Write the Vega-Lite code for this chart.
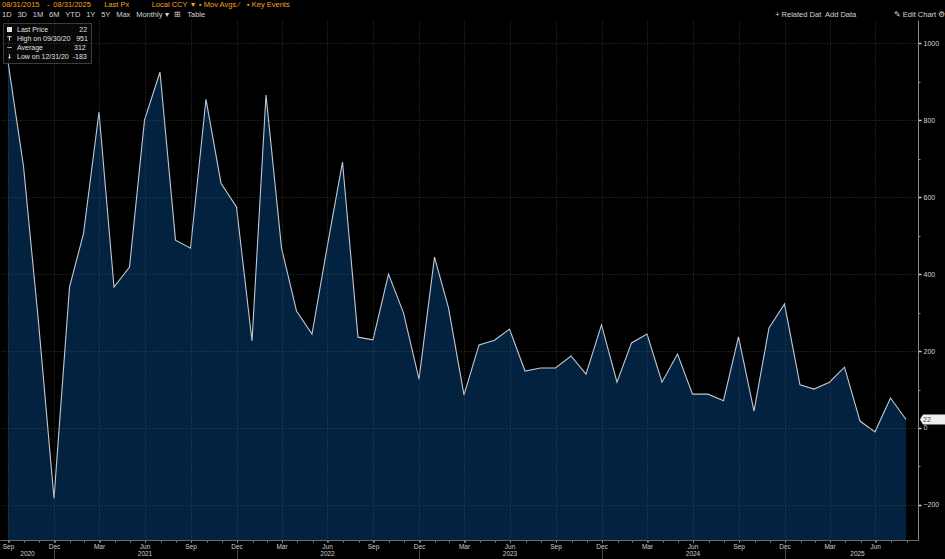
{
  "$schema": "https://vega.github.io/schema/vega-lite/v6.json",
  "width": 918,
  "height": 520,
  "autosize": {"type": "none"},
  "padding": {"left": 0, "top": 20, "right": 27, "bottom": 19},
  "background": "#000000",
  "title": {
    "text": "08/31/2015\u2002\u2002-\u200208/31/2025\u2002\u2002\u2002\u00a0Last Px\u2002\u2002\u2002\u2002\u2002\u2002Local CCY\u2002\u25be\u2002\u25aa Mov Avgs \u2044\u2002\u2002\u25aa Key Events",
    "subtitle": "1D\u2002\u00a03D\u2002\u00a01M\u2002\u00a06M\u2002\u00a0YTD\u2002\u00a01Y\u2002\u00a05Y\u2002\u00a0Max\u2002\u00a0Monthly \u25be\u2002\u00a0\u229e\u2002\u00a0Table\u2003\u2003\u2003\u2003\u2003\u2003\u2003\u2003\u2003\u2003\u2003\u2003\u2003\u2003\u2003\u2003\u2003\u2003\u2003\u2003\u2003\u2003\u2003\u2003\u2003\u2003\u2003\u2003\u2003\u2003\u2003\u2003\u2003\u2003\u2003\u2003\u2003\u2003\u2003\u2003\u2003\u2003\u2003\u2003\u2003\u2003\u2003\u2003\u2003\u2003\u2003\u2003\u2003\u2003\u2003\u2003\u2003\u2003\u2003\u2003\u2003\u2003\u2003\u2003\u2003\u2003\u2003\u2003\u2003\u2003\u2003\u2003\u2003\u2003\u2003\u2003+ Related Dat\u2002Add Data\u2003\u2003\u2003\u2003\u2003\u270e Edit Chart \u2699",
    "anchor": "start",
    "frame": "group",
    "orient": "top",
    "offset": 2,
    "dx": 2,
    "font": "Liberation Sans",
    "fontSize": 7.5,
    "fontWeight": "normal",
    "color": "#f5a11c",
    "subtitleFont": "Liberation Sans",
    "subtitleColor": "#d4d4d4",
    "subtitleFontSize": 7.5,
    "subtitlePadding": 2.5
  },
  "datasets": {
    "series": [
      {"date": "2020-09-30", "value": 951},
      {"date": "2020-10-31", "value": 680},
      {"date": "2020-11-30", "value": 275},
      {"date": "2020-12-31", "value": -183},
      {"date": "2021-01-31", "value": 366},
      {"date": "2021-02-28", "value": 505},
      {"date": "2021-03-31", "value": 821},
      {"date": "2021-04-30", "value": 366},
      {"date": "2021-05-31", "value": 418},
      {"date": "2021-06-30", "value": 800},
      {"date": "2021-07-31", "value": 925},
      {"date": "2021-08-31", "value": 488},
      {"date": "2021-09-30", "value": 467},
      {"date": "2021-10-31", "value": 854},
      {"date": "2021-11-30", "value": 636},
      {"date": "2021-12-31", "value": 574},
      {"date": "2022-01-31", "value": 226},
      {"date": "2022-02-28", "value": 865},
      {"date": "2022-03-31", "value": 468},
      {"date": "2022-04-30", "value": 304},
      {"date": "2022-05-31", "value": 244},
      {"date": "2022-06-30", "value": 468},
      {"date": "2022-07-31", "value": 691},
      {"date": "2022-08-31", "value": 236},
      {"date": "2022-09-30", "value": 229},
      {"date": "2022-10-31", "value": 400},
      {"date": "2022-11-30", "value": 299},
      {"date": "2022-12-31", "value": 127},
      {"date": "2023-01-31", "value": 444},
      {"date": "2023-02-28", "value": 312},
      {"date": "2023-03-31", "value": 86},
      {"date": "2023-04-30", "value": 216},
      {"date": "2023-05-31", "value": 228},
      {"date": "2023-06-30", "value": 257},
      {"date": "2023-07-31", "value": 148},
      {"date": "2023-08-31", "value": 156},
      {"date": "2023-09-30", "value": 156},
      {"date": "2023-10-31", "value": 187},
      {"date": "2023-11-30", "value": 140},
      {"date": "2023-12-31", "value": 268},
      {"date": "2024-01-31", "value": 119},
      {"date": "2024-02-29", "value": 221},
      {"date": "2024-03-31", "value": 244},
      {"date": "2024-04-30", "value": 119},
      {"date": "2024-05-31", "value": 192},
      {"date": "2024-06-30", "value": 88},
      {"date": "2024-07-31", "value": 88},
      {"date": "2024-08-31", "value": 71},
      {"date": "2024-09-30", "value": 237},
      {"date": "2024-10-31", "value": 44},
      {"date": "2024-11-30", "value": 260},
      {"date": "2024-12-31", "value": 322},
      {"date": "2025-01-31", "value": 112},
      {"date": "2025-02-28", "value": 101},
      {"date": "2025-03-31", "value": 119},
      {"date": "2025-04-30", "value": 158},
      {"date": "2025-05-31", "value": 18},
      {"date": "2025-06-30", "value": -10},
      {"date": "2025-07-31", "value": 78},
      {"date": "2025-08-31", "value": 22}
    ],
    "last": [
      {"date": "2025-08-31", "value": 22}
    ],
    "legendRows": [
      {"entry": "Last Price"},
      {"entry": "High on 09/30/20"},
      {"entry": "Average"},
      {"entry": "Low on 12/31/20"}
    ]
  },
  "layer": [
    {
      "data": {"name": "series"},
      "mark": {"type": "area", "color": "#03223f", "opacity": 1},
      "encoding": {
        "x": {
          "field": "date",
          "type": "temporal",
          "scale": {"type": "utc", "domain": [{"year": 2020, "month": 9, "date": 14, "utc": true}, {"year": 2025, "month": 9, "date": 24, "utc": true}]},
          "axis": {
            "orient": "bottom",
            "values": [
              {"year": 2020, "month": 9, "date": 30, "utc": true},
              {"year": 2020, "month": 12, "date": 31, "utc": true},
              {"year": 2021, "month": 3, "date": 31, "utc": true},
              {"year": 2021, "month": 6, "date": 30, "utc": true},
              {"year": 2021, "month": 9, "date": 30, "utc": true},
              {"year": 2021, "month": 12, "date": 31, "utc": true},
              {"year": 2022, "month": 3, "date": 31, "utc": true},
              {"year": 2022, "month": 6, "date": 30, "utc": true},
              {"year": 2022, "month": 9, "date": 30, "utc": true},
              {"year": 2022, "month": 12, "date": 31, "utc": true},
              {"year": 2023, "month": 3, "date": 31, "utc": true},
              {"year": 2023, "month": 6, "date": 30, "utc": true},
              {"year": 2023, "month": 9, "date": 30, "utc": true},
              {"year": 2023, "month": 12, "date": 31, "utc": true},
              {"year": 2024, "month": 3, "date": 31, "utc": true},
              {"year": 2024, "month": 6, "date": 30, "utc": true},
              {"year": 2024, "month": 9, "date": 30, "utc": true},
              {"year": 2024, "month": 12, "date": 31, "utc": true},
              {"year": 2025, "month": 3, "date": 31, "utc": true},
              {"year": 2025, "month": 6, "date": 30, "utc": true}
            ],
            "format": "%b",
            "labelFlush": false,
            "labelOverlap": false,
            "labelColor": "#cfcfcf",
            "labelFontSize": 6.5,
            "labelPadding": 1,
            "tickSize": 2,
            "tickColor": "#9a9a9a",
            "domainColor": "#6a6a6a",
            "grid": true,
            "gridColor": "#5a5a5a",
            "gridOpacity": 0.6,
            "gridDash": [1, 2],
            "title": null,
            "zindex": 1
          }
        },
        "y": {
          "field": "value",
          "type": "quantitative",
          "scale": {"domain": [-291, 1060], "zero": false, "nice": false},
          "axis": {
            "orient": "right",
            "values": [-200, 0, 200, 400, 600, 800, 1000],
            "format": "d",
            "labelColor": "#d8d8d8",
            "labelFontSize": 7,
            "labelPadding": 2,
            "labelFlush": false,
            "tickSize": 3,
            "tickWidth": 1.5,
            "tickColor": "#d0d0d0",
            "domainColor": "#8a8a8a",
            "grid": true,
            "gridColor": "#5a5a5a",
            "gridOpacity": 0.6,
            "gridDash": [1, 2],
            "title": null,
            "zindex": 1
          }
        },
        "y2": {"datum": -291}
      }
    },
    {
      "data": {"name": "series"},
      "mark": {"type": "line", "color": "#c0c9d4", "strokeWidth": 1.1},
      "encoding": {
        "x": {
          "field": "date",
          "type": "temporal",
          "scale": {"type": "utc", "domain": [{"year": 2020, "month": 9, "date": 14, "utc": true}, {"year": 2025, "month": 9, "date": 24, "utc": true}]},
          "axis": {
            "orient": "bottom",
            "tickCount": {"interval": "month", "step": 1},
            "labels": false,
            "domain": false,
            "grid": false,
            "tickSize": 2,
            "tickColor": "#8a8a8a",
            "title": null
          }
        },
        "y": {
          "field": "value",
          "type": "quantitative",
          "scale": {"domain": [-291, 1060], "zero": false, "nice": false},
          "axis": {
            "orient": "right",
            "values": [-100, 100, 300, 500, 700, 900],
            "labels": false,
            "domain": false,
            "grid": false,
            "tickSize": 2,
            "tickColor": "#8a8a8a",
            "title": null
          }
        }
      }
    },
    {
      "data": {"name": "last"},
      "mark": {"type": "point", "shape": "M0,0L0.6,-1L5.2,-1L5.2,1L0.6,1Z", "size": 100, "filled": true, "color": "#eeeeee", "opacity": 1, "xOffset": 14},
      "encoding": {
        "x": {
          "field": "date",
          "type": "temporal",
          "scale": {"type": "utc", "domain": [{"year": 2020, "month": 9, "date": 14, "utc": true}, {"year": 2025, "month": 9, "date": 24, "utc": true}]},
          "axis": {
            "orient": "bottom",
            "values": [
              {"year": 2020, "month": 11, "date": 7, "utc": true},
              {"year": 2021, "month": 6, "date": 30, "utc": true},
              {"year": 2022, "month": 6, "date": 30, "utc": true},
              {"year": 2023, "month": 6, "date": 30, "utc": true},
              {"year": 2024, "month": 6, "date": 30, "utc": true},
              {"year": 2025, "month": 5, "date": 25, "utc": true}
            ],
            "format": "%Y",
            "ticks": false,
            "tickSize": 0,
            "domain": false,
            "grid": false,
            "labelPadding": 10,
            "labelColor": "#cfcfcf",
            "labelFontSize": 6.5,
            "labelFlush": false,
            "labelOverlap": false,
            "title": null
          }
        },
        "y": {
          "field": "value",
          "type": "quantitative",
          "scale": {"domain": [-291, 1060], "zero": false, "nice": false},
          "axis": null
        }
      }
    },
    {
      "data": {"name": "last"},
      "mark": {"type": "text", "dx": 17, "align": "left", "baseline": "middle", "fontSize": 7, "color": "#4a4a4a"},
      "encoding": {
        "x": {
          "field": "date",
          "type": "temporal",
          "scale": {"type": "utc", "domain": [{"year": 2020, "month": 9, "date": 14, "utc": true}, {"year": 2025, "month": 9, "date": 24, "utc": true}]},
          "axis": {
            "orient": "bottom",
            "values": [
              {"year": 2020, "month": 12, "date": 31, "utc": true},
              {"year": 2021, "month": 12, "date": 31, "utc": true},
              {"year": 2022, "month": 12, "date": 31, "utc": true},
              {"year": 2023, "month": 12, "date": 31, "utc": true},
              {"year": 2024, "month": 12, "date": 31, "utc": true}
            ],
            "labels": false,
            "domain": false,
            "grid": false,
            "ticks": true,
            "tickSize": 10,
            "tickColor": "#4a4a4a",
            "offset": 9,
            "title": null
          }
        },
        "y": {
          "field": "value",
          "type": "quantitative",
          "scale": {"domain": [-291, 1060], "zero": false, "nice": false},
          "axis": null
        },
        "text": {"field": "value", "type": "quantitative"}
      }
    },
    {
      "data": {"name": "legendRows"},
      "mark": {"type": "point", "filled": true, "opacity": 0, "color": "#e8e8e8"},
      "encoding": {
        "shape": {
          "field": "entry",
          "type": "nominal",
          "scale": {
            "domain": ["Last Price", "High on 09/30/20", "Average", "Low on 12/31/20"],
            "range": [
              "square",
              "M-0.9,-0.9L0.9,-0.9L0.9,-0.55L0.18,-0.55L0.18,0.9L-0.18,0.9L-0.18,-0.55L-0.9,-0.55Z",
              "M-0.9,-0.15L0.9,-0.15L0.9,0.15L-0.9,0.15Z",
              "M-0.18,-0.9L0.18,-0.9L0.18,0.2L0.6,0.2L0,0.95L-0.6,0.2L-0.18,0.2Z"
            ]
          },
          "legend": {
            "orient": "top-left",
            "offset": 3,
            "title": null,
            "padding": 3,
            "fillColor": "rgba(8,8,8,0.85)",
            "strokeColor": "#3c3c3c",
            "labelColor": "#e0e0e0",
            "labelFont": "Liberation Sans",
            "labelFontSize": 7,
            "labelOffset": 4,
            "labelLimit": 200,
            "rowPadding": 1,
            "symbolSize": 25,
            "symbolOpacity": 1,
            "symbolFillColor": "#e8e8e8",
            "symbolStrokeWidth": 0,
            "labelExpr": "datum.label == 'Last Price' ? 'Last Price\u00a0\u00a0\u00a0\u00a0\u00a0\u00a0\u00a0\u00a0\u00a0\u00a0\u00a0\u00a0\u00a0\u00a0\u00a0\u00a022' : datum.label == 'High on 09/30/20' ? 'High on 09/30/20\u00a0\u00a0\u00a0951' : datum.label == 'Average' ? 'Average\u00a0\u00a0\u00a0\u00a0\u00a0\u00a0\u00a0\u00a0\u00a0\u00a0\u00a0\u00a0\u00a0\u00a0\u00a0\u00a0312' : 'Low on 12/31/20\u00a0\u00a0-183'"
          }
        }
      }
    }
  ],
  "resolve": {"axis": {"x": "independent", "y": "independent"}},
  "config": {
    "view": {"stroke": null},
    "font": "Liberation Sans"
  }
}
